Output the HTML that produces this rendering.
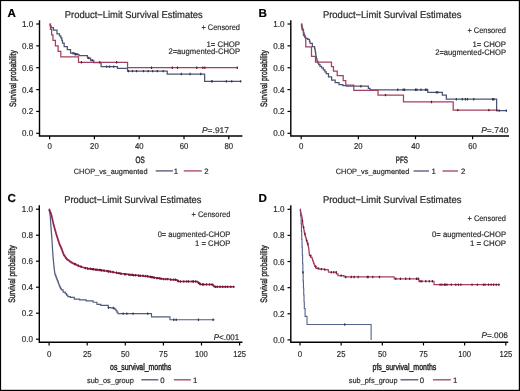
<!DOCTYPE html>
<html><head><meta charset="utf-8"><style>
html,body{margin:0;padding:0;background:#fff;width:520px;height:391px;overflow:hidden}
svg{display:block;filter:blur(0.3px)}
text{font-family:"Liberation Sans",sans-serif;text-rendering:geometricPrecision;stroke:#2a2a2a;stroke-width:0.18px}
</style></head><body>
<svg width="520" height="391" viewBox="0 0 520 391" font-family="'Liberation Sans', sans-serif">
<rect x="0" y="0" width="520" height="391" fill="#fff"/>
<text x="7.60" y="16.50" font-size="11.60" text-anchor="start" fill="#000" font-weight="bold" style="stroke:#000;stroke-width:0.2px">A</text>
<text x="64.80" y="17.60" font-size="9.90" text-anchor="start" fill="#2a2a2a" font-weight="normal" textLength="138.00" lengthAdjust="spacingAndGlyphs" style="stroke-width:0.22px">Product&#8722;Limit Survival Estimates</text>
<path d="M39.50,20.30V136.00H242.40" fill="none" stroke="#000" stroke-width="1.4"/>
<path d="M36.20,133.30H39.50" stroke="#000" stroke-width="1.2"/>
<text x="33.20" y="136.30" font-size="8.60" text-anchor="end" fill="#2a2a2a" font-weight="normal" textLength="11.20" lengthAdjust="spacingAndGlyphs" >0.0</text>
<path d="M36.20,111.44H39.50" stroke="#000" stroke-width="1.2"/>
<text x="33.20" y="114.44" font-size="8.60" text-anchor="end" fill="#2a2a2a" font-weight="normal" textLength="11.20" lengthAdjust="spacingAndGlyphs" >0.2</text>
<path d="M36.20,89.58H39.50" stroke="#000" stroke-width="1.2"/>
<text x="33.20" y="92.58" font-size="8.60" text-anchor="end" fill="#2a2a2a" font-weight="normal" textLength="11.20" lengthAdjust="spacingAndGlyphs" >0.4</text>
<path d="M36.20,67.72H39.50" stroke="#000" stroke-width="1.2"/>
<text x="33.20" y="70.72" font-size="8.60" text-anchor="end" fill="#2a2a2a" font-weight="normal" textLength="11.20" lengthAdjust="spacingAndGlyphs" >0.6</text>
<path d="M36.20,45.86H39.50" stroke="#000" stroke-width="1.2"/>
<text x="33.20" y="48.86" font-size="8.60" text-anchor="end" fill="#2a2a2a" font-weight="normal" textLength="11.20" lengthAdjust="spacingAndGlyphs" >0.8</text>
<path d="M36.20,24.00H39.50" stroke="#000" stroke-width="1.2"/>
<text x="33.20" y="27.00" font-size="8.60" text-anchor="end" fill="#2a2a2a" font-weight="normal" textLength="11.20" lengthAdjust="spacingAndGlyphs" >1.0</text>
<path d="M49.60,136.00V139.20" stroke="#000" stroke-width="1.2"/>
<text x="49.60" y="149.30" font-size="8.60" text-anchor="middle" fill="#2a2a2a" font-weight="normal" textLength="4.40" lengthAdjust="spacingAndGlyphs" >0</text>
<path d="M94.40,136.00V139.20" stroke="#000" stroke-width="1.2"/>
<text x="94.40" y="149.30" font-size="8.60" text-anchor="middle" fill="#2a2a2a" font-weight="normal" textLength="8.60" lengthAdjust="spacingAndGlyphs" >20</text>
<path d="M139.20,136.00V139.20" stroke="#000" stroke-width="1.2"/>
<text x="139.20" y="149.30" font-size="8.60" text-anchor="middle" fill="#2a2a2a" font-weight="normal" textLength="8.60" lengthAdjust="spacingAndGlyphs" >40</text>
<path d="M184.00,136.00V139.20" stroke="#000" stroke-width="1.2"/>
<text x="184.00" y="149.30" font-size="8.60" text-anchor="middle" fill="#2a2a2a" font-weight="normal" textLength="8.60" lengthAdjust="spacingAndGlyphs" >60</text>
<path d="M228.80,136.00V139.20" stroke="#000" stroke-width="1.2"/>
<text x="228.80" y="149.30" font-size="8.60" text-anchor="middle" fill="#2a2a2a" font-weight="normal" textLength="8.60" lengthAdjust="spacingAndGlyphs" >80</text>
<text x="0" y="0" font-size="9.4" fill="#2a2a2a" stroke="#2a2a2a" style="stroke-width:0.4px" text-anchor="middle" textLength="56.8" lengthAdjust="spacingAndGlyphs" transform="translate(15.60,78.60) rotate(-90)">Survival probability</text>
<text x="140.10" y="163.20" font-size="9.20" text-anchor="middle" fill="#2a2a2a" font-weight="normal" textLength="9.20" lengthAdjust="spacingAndGlyphs" style="stroke-width:0.45px">OS</text>
<text x="240.00" y="29.80" font-size="8.00" text-anchor="end" fill="#2a2a2a" font-weight="normal" textLength="38.60" lengthAdjust="spacingAndGlyphs" >+ Censored</text>
<text x="240.00" y="46.60" font-size="8.00" text-anchor="end" fill="#2a2a2a" font-weight="normal" textLength="33.50" lengthAdjust="spacingAndGlyphs" >1= CHOP</text>
<text x="240.00" y="54.30" font-size="8.00" text-anchor="end" fill="#2a2a2a" font-weight="normal" textLength="71.60" lengthAdjust="spacingAndGlyphs" >2=augmented-CHOP</text>
<text x="202.00" y="132.80" font-size="8.2" fill="#2a2a2a" textLength="27.0" lengthAdjust="spacingAndGlyphs"><tspan font-style="italic">P</tspan>=.917</text>
<text x="73.80" y="173.60" font-size="7.60" text-anchor="start" fill="#2a2a2a" font-weight="normal" textLength="73.70" lengthAdjust="spacingAndGlyphs" >CHOP_vs_augmented</text>
<path d="M155.70,170.90H173.00" stroke="#4c5472" stroke-width="1.3"/>
<text x="173.80" y="173.60" font-size="7.80" text-anchor="start" fill="#2a2a2a" font-weight="normal" >1</text>
<path d="M183.80,170.90H201.80" stroke="#a3405f" stroke-width="1.3"/>
<text x="204.30" y="173.60" font-size="7.80" text-anchor="start" fill="#2a2a2a" font-weight="normal" >2</text>
<path d="M49.60,24.00L50.10,24.00L50.10,25.86L51.11,25.86L51.11,27.72L51.62,27.72L53.41,27.72L53.41,30.23L55.20,30.23L56.99,30.23L56.99,33.84L58.78,33.84L59.46,33.84L59.46,35.86L60.80,35.86L60.80,37.88L61.47,37.88L61.81,37.88L61.81,40.45L62.48,40.45L62.48,43.02L62.82,43.02L64.16,43.02L64.16,46.63L65.50,46.63L67.30,46.63L67.30,49.69L69.09,49.69L70.54,49.69L70.54,53.18L72.00,53.18L74.80,53.18L74.80,54.28L77.60,54.28L78.94,54.28L78.94,55.70L80.29,55.70L85.89,55.70L87.46,55.70L87.46,58.03L90.59,58.03L90.59,60.36L93.73,60.36L93.73,62.69L95.30,62.69L101.12,62.69L101.12,66.63L117.47,66.63L117.47,68.38L127.55,68.38L127.55,71.11L167.20,71.11L167.20,74.06L204.61,74.06L204.61,81.38L240.67,81.38" fill="none" stroke="#4c5472" stroke-width="1.25" stroke-linejoin="miter"/>
<path d="M73.12,51.98V54.38M72.42,53.18H73.82M75.36,53.08V55.48M74.66,54.28H76.06M76.93,53.08V55.48M76.23,54.28H77.63M88.80,56.83V59.23M88.10,58.03H89.50M92.16,59.16V61.56M91.46,60.36H92.86M106.72,65.43V67.83M106.02,66.63H107.42M109.63,65.43V67.83M108.93,66.63H110.33M113.66,65.43V67.83M112.96,66.63H114.36M128.45,69.91V72.31M127.75,71.11H129.15M132.48,69.91V72.31M131.78,71.11H133.18M136.51,69.91V72.31M135.81,71.11H137.21M143.46,69.91V72.31M142.76,71.11H144.16M148.16,69.91V72.31M147.46,71.11H148.86M152.64,69.91V72.31M151.94,71.11H153.34M157.34,69.91V72.31M156.64,71.11H158.04M163.17,69.91V72.31M162.47,71.11H163.87M181.31,72.86V75.26M180.61,74.06H182.01M190.05,72.86V75.26M189.35,74.06H190.75M200.80,72.86V75.26M200.10,74.06H201.50M211.55,80.18V82.58M210.85,81.38H212.25M212.22,80.18V82.58M211.52,81.38H212.92M226.34,80.18V82.58M225.64,81.38H227.04M231.71,80.18V82.58M231.01,81.38H232.41M240.67,80.18V82.58M239.97,81.38H241.37" fill="none" stroke="#2c3455" stroke-width="1.10"/>
<path d="M49.60,24.00L50.50,24.00L50.50,29.47L51.62,29.47L51.62,34.93L52.96,34.93L52.96,40.40L55.42,40.40L55.42,45.86L58.11,45.86L58.11,51.33L60.80,51.33L60.80,56.79L78.50,56.79L78.50,62.26L127.55,62.26L127.55,67.72L237.31,67.72" fill="none" stroke="#a3405f" stroke-width="1.25" stroke-linejoin="miter"/>
<path d="M81.41,61.06V63.46M80.71,62.26H82.11M99.78,61.06V63.46M99.08,62.26H100.48M116.58,61.06V63.46M115.88,62.26H117.28M151.52,66.52V68.92M150.82,67.72H152.22M172.35,66.52V68.92M171.65,67.72H173.05M177.50,66.52V68.92M176.80,67.72H178.20M196.77,66.52V68.92M196.07,67.72H197.47M202.82,66.52V68.92M202.12,67.72H203.52M204.83,66.52V68.92M204.13,67.72H205.53M237.31,66.52V68.92M236.61,67.72H238.01" fill="none" stroke="#6e1234" stroke-width="1.10"/>
<text x="258.60" y="16.50" font-size="11.60" text-anchor="start" fill="#000" font-weight="bold" style="stroke:#000;stroke-width:0.2px">B</text>
<text x="322.90" y="17.60" font-size="9.90" text-anchor="start" fill="#2a2a2a" font-weight="normal" textLength="138.60" lengthAdjust="spacingAndGlyphs" style="stroke-width:0.22px">Product&#8722;Limit Survival Estimates</text>
<path d="M290.80,20.30V136.00H509.00" fill="none" stroke="#000" stroke-width="1.4"/>
<path d="M287.50,133.30H290.80" stroke="#000" stroke-width="1.2"/>
<text x="284.50" y="136.30" font-size="8.60" text-anchor="end" fill="#2a2a2a" font-weight="normal" textLength="11.20" lengthAdjust="spacingAndGlyphs" >0.0</text>
<path d="M287.50,111.44H290.80" stroke="#000" stroke-width="1.2"/>
<text x="284.50" y="114.44" font-size="8.60" text-anchor="end" fill="#2a2a2a" font-weight="normal" textLength="11.20" lengthAdjust="spacingAndGlyphs" >0.2</text>
<path d="M287.50,89.58H290.80" stroke="#000" stroke-width="1.2"/>
<text x="284.50" y="92.58" font-size="8.60" text-anchor="end" fill="#2a2a2a" font-weight="normal" textLength="11.20" lengthAdjust="spacingAndGlyphs" >0.4</text>
<path d="M287.50,67.72H290.80" stroke="#000" stroke-width="1.2"/>
<text x="284.50" y="70.72" font-size="8.60" text-anchor="end" fill="#2a2a2a" font-weight="normal" textLength="11.20" lengthAdjust="spacingAndGlyphs" >0.6</text>
<path d="M287.50,45.86H290.80" stroke="#000" stroke-width="1.2"/>
<text x="284.50" y="48.86" font-size="8.60" text-anchor="end" fill="#2a2a2a" font-weight="normal" textLength="11.20" lengthAdjust="spacingAndGlyphs" >0.8</text>
<path d="M287.50,24.00H290.80" stroke="#000" stroke-width="1.2"/>
<text x="284.50" y="27.00" font-size="8.60" text-anchor="end" fill="#2a2a2a" font-weight="normal" textLength="11.20" lengthAdjust="spacingAndGlyphs" >1.0</text>
<path d="M301.20,136.00V139.20" stroke="#000" stroke-width="1.2"/>
<text x="301.20" y="149.30" font-size="8.60" text-anchor="middle" fill="#2a2a2a" font-weight="normal" textLength="4.40" lengthAdjust="spacingAndGlyphs" >0</text>
<path d="M358.34,136.00V139.20" stroke="#000" stroke-width="1.2"/>
<text x="358.34" y="149.30" font-size="8.60" text-anchor="middle" fill="#2a2a2a" font-weight="normal" textLength="8.60" lengthAdjust="spacingAndGlyphs" >20</text>
<path d="M415.48,136.00V139.20" stroke="#000" stroke-width="1.2"/>
<text x="415.48" y="149.30" font-size="8.60" text-anchor="middle" fill="#2a2a2a" font-weight="normal" textLength="8.60" lengthAdjust="spacingAndGlyphs" >40</text>
<path d="M472.62,136.00V139.20" stroke="#000" stroke-width="1.2"/>
<text x="472.62" y="149.30" font-size="8.60" text-anchor="middle" fill="#2a2a2a" font-weight="normal" textLength="8.60" lengthAdjust="spacingAndGlyphs" >60</text>
<text x="0" y="0" font-size="9.4" fill="#2a2a2a" stroke="#2a2a2a" style="stroke-width:0.4px" text-anchor="middle" textLength="56.8" lengthAdjust="spacingAndGlyphs" transform="translate(266.90,78.60) rotate(-90)">Survival probability</text>
<text x="401.80" y="163.20" font-size="9.20" text-anchor="middle" fill="#2a2a2a" font-weight="normal" textLength="12.10" lengthAdjust="spacingAndGlyphs" style="stroke-width:0.45px">PFS</text>
<text x="506.00" y="32.50" font-size="8.00" text-anchor="end" fill="#2a2a2a" font-weight="normal" textLength="38.60" lengthAdjust="spacingAndGlyphs" >+ Censored</text>
<text x="506.00" y="46.60" font-size="8.00" text-anchor="end" fill="#2a2a2a" font-weight="normal" textLength="33.50" lengthAdjust="spacingAndGlyphs" >1= CHOP</text>
<text x="506.00" y="54.60" font-size="8.00" text-anchor="end" fill="#2a2a2a" font-weight="normal" textLength="70.80" lengthAdjust="spacingAndGlyphs" >2=augmented-CHOP</text>
<text x="481.20" y="132.80" font-size="8.2" fill="#2a2a2a" textLength="27.2" lengthAdjust="spacingAndGlyphs"><tspan font-style="italic">P</tspan>=.740</text>
<text x="335.80" y="173.70" font-size="7.60" text-anchor="start" fill="#2a2a2a" font-weight="normal" textLength="73.50" lengthAdjust="spacingAndGlyphs" >CHOP_vs_augmented</text>
<path d="M413.60,171.00H429.00" stroke="#4c5472" stroke-width="1.3"/>
<text x="431.60" y="173.70" font-size="7.80" text-anchor="start" fill="#2a2a2a" font-weight="normal" >1</text>
<path d="M442.50,171.00H458.00" stroke="#a3405f" stroke-width="1.3"/>
<text x="460.90" y="173.70" font-size="7.80" text-anchor="start" fill="#2a2a2a" font-weight="normal" >2</text>
<path d="M301.20,24.00L301.51,24.00L301.51,26.08L302.14,26.08L302.14,28.15L302.77,28.15L302.77,30.23L303.40,30.23L303.40,32.31L303.71,32.31L303.94,32.31L303.94,34.33L304.40,34.33L304.40,36.35L304.63,36.35L305.41,36.35L305.41,38.43L306.20,38.43L307.70,38.43L307.70,39.41L309.20,39.41L309.49,39.41L309.49,41.43L310.06,41.43L310.06,43.46L310.34,43.46L312.34,43.46L312.34,46.63L314.34,46.63L314.56,46.63L314.56,48.32L314.99,48.32L314.99,50.01L315.20,50.01L315.34,50.01L315.34,52.13L315.63,52.13L315.63,54.24L315.91,54.24L315.91,56.35L316.06,56.35L316.34,56.35L316.34,58.65L316.91,58.65L316.91,60.94L317.20,60.94L317.70,60.94L317.70,62.80L318.70,62.80L318.70,64.66L319.20,64.66L319.98,64.66L319.98,66.30L321.56,66.30L321.56,67.94L322.34,67.94L323.34,67.94L323.34,69.80L324.34,69.80L324.98,69.80L324.98,71.76L326.27,71.76L326.27,73.73L326.91,73.73L328.48,73.73L328.48,76.90L330.06,76.90L331.63,76.90L331.63,80.07L333.20,80.07L335.20,80.07L335.20,82.58L337.20,82.58L339.06,82.58L339.06,84.55L340.91,84.55L342.91,84.55L342.91,85.54L344.91,85.54L346.63,85.54L346.63,86.19L348.34,86.19L368.34,86.19L368.34,88.49L370.05,88.49L370.05,89.80L427.77,89.80L427.77,92.42L442.34,92.42L442.34,95.05L446.34,95.05L446.34,99.20L496.62,99.20L496.62,110.67L506.33,110.67" fill="none" stroke="#4c5472" stroke-width="1.25" stroke-linejoin="miter"/>
<path d="M360.91,84.99V87.39M360.21,86.19H361.61M397.77,88.60V91.00M397.07,89.80H398.47M403.19,88.60V91.00M402.49,89.80H403.89M404.62,88.60V91.00M403.92,89.80H405.32M415.48,88.60V91.00M414.78,89.80H416.18M416.91,88.60V91.00M416.21,89.80H417.61M420.91,88.60V91.00M420.21,89.80H421.61M425.48,88.60V91.00M424.78,89.80H426.18M426.91,88.60V91.00M426.21,89.80H427.61M436.34,91.22V93.62M435.64,92.42H437.04M437.76,91.22V93.62M437.06,92.42H438.46M456.34,98.00V100.40M455.64,99.20H457.04M462.33,98.00V100.40M461.63,99.20H463.03M465.48,98.00V100.40M464.78,99.20H466.18M467.48,98.00V100.40M466.78,99.20H468.18M473.76,98.00V100.40M473.06,99.20H474.46M492.62,98.00V100.40M491.92,99.20H493.32M493.76,98.00V100.40M493.06,99.20H494.46M499.19,109.47V111.87M498.49,110.67H499.89M506.33,109.47V111.87M505.63,110.67H507.03" fill="none" stroke="#2c3455" stroke-width="1.10"/>
<path d="M301.20,24.00L301.95,24.00L301.95,29.63L303.45,29.63L303.45,35.26L304.20,35.26L304.99,35.26L304.99,37.44L305.77,37.44L305.77,46.95L311.49,46.95L311.49,56.35L315.49,56.35L315.49,62.15L331.48,62.15L331.48,66.63L333.48,66.63L333.48,71.11L337.20,71.11L337.20,75.59L343.20,75.59L343.20,80.73L345.77,80.73L345.77,85.21L353.77,85.21L353.77,90.45L378.05,90.45L378.05,95.15L403.48,95.15L403.48,101.93L453.19,101.93L453.19,110.13L496.90,110.13" fill="none" stroke="#a3405f" stroke-width="1.25" stroke-linejoin="miter"/>
<path d="M385.48,93.95V96.35M384.78,95.15H386.18M431.48,100.73V103.13M430.78,101.93H432.18M457.76,108.93V111.33M457.06,110.13H458.46M488.90,108.93V111.33M488.20,110.13H489.60M496.90,108.93V111.33M496.20,110.13H497.60" fill="none" stroke="#6e1234" stroke-width="1.10"/>
<text x="7.60" y="201.60" font-size="11.60" text-anchor="start" fill="#000" font-weight="bold" style="stroke:#000;stroke-width:0.2px">C</text>
<text x="64.20" y="202.60" font-size="9.90" text-anchor="start" fill="#2a2a2a" font-weight="normal" textLength="137.30" lengthAdjust="spacingAndGlyphs" style="stroke-width:0.22px">Product&#8722;Limit Survival Estimates</text>
<path d="M39.30,205.30V342.30H242.40" fill="none" stroke="#000" stroke-width="1.4"/>
<path d="M36.00,339.20H39.30" stroke="#000" stroke-width="1.2"/>
<text x="33.00" y="342.20" font-size="8.60" text-anchor="end" fill="#2a2a2a" font-weight="normal" textLength="11.20" lengthAdjust="spacingAndGlyphs" >0.0</text>
<path d="M36.00,313.20H39.30" stroke="#000" stroke-width="1.2"/>
<text x="33.00" y="316.20" font-size="8.60" text-anchor="end" fill="#2a2a2a" font-weight="normal" textLength="11.20" lengthAdjust="spacingAndGlyphs" >0.2</text>
<path d="M36.00,287.20H39.30" stroke="#000" stroke-width="1.2"/>
<text x="33.00" y="290.20" font-size="8.60" text-anchor="end" fill="#2a2a2a" font-weight="normal" textLength="11.20" lengthAdjust="spacingAndGlyphs" >0.4</text>
<path d="M36.00,261.20H39.30" stroke="#000" stroke-width="1.2"/>
<text x="33.00" y="264.20" font-size="8.60" text-anchor="end" fill="#2a2a2a" font-weight="normal" textLength="11.20" lengthAdjust="spacingAndGlyphs" >0.6</text>
<path d="M36.00,235.20H39.30" stroke="#000" stroke-width="1.2"/>
<text x="33.00" y="238.20" font-size="8.60" text-anchor="end" fill="#2a2a2a" font-weight="normal" textLength="11.20" lengthAdjust="spacingAndGlyphs" >0.8</text>
<path d="M36.00,209.20H39.30" stroke="#000" stroke-width="1.2"/>
<text x="33.00" y="212.20" font-size="8.60" text-anchor="end" fill="#2a2a2a" font-weight="normal" textLength="11.20" lengthAdjust="spacingAndGlyphs" >1.0</text>
<path d="M49.10,342.30V345.50" stroke="#000" stroke-width="1.2"/>
<text x="49.10" y="356.60" font-size="8.60" text-anchor="middle" fill="#2a2a2a" font-weight="normal" textLength="4.40" lengthAdjust="spacingAndGlyphs" >0</text>
<path d="M87.20,342.30V345.50" stroke="#000" stroke-width="1.2"/>
<text x="87.20" y="356.60" font-size="8.60" text-anchor="middle" fill="#2a2a2a" font-weight="normal" textLength="8.60" lengthAdjust="spacingAndGlyphs" >25</text>
<path d="M125.30,342.30V345.50" stroke="#000" stroke-width="1.2"/>
<text x="125.30" y="356.60" font-size="8.60" text-anchor="middle" fill="#2a2a2a" font-weight="normal" textLength="8.60" lengthAdjust="spacingAndGlyphs" >50</text>
<path d="M163.40,342.30V345.50" stroke="#000" stroke-width="1.2"/>
<text x="163.40" y="356.60" font-size="8.60" text-anchor="middle" fill="#2a2a2a" font-weight="normal" textLength="8.60" lengthAdjust="spacingAndGlyphs" >75</text>
<path d="M201.50,342.30V345.50" stroke="#000" stroke-width="1.2"/>
<text x="201.50" y="356.60" font-size="8.60" text-anchor="middle" fill="#2a2a2a" font-weight="normal" textLength="12.80" lengthAdjust="spacingAndGlyphs" >100</text>
<path d="M239.60,342.30V345.50" stroke="#000" stroke-width="1.2"/>
<text x="239.60" y="356.60" font-size="8.60" text-anchor="middle" fill="#2a2a2a" font-weight="normal" textLength="12.80" lengthAdjust="spacingAndGlyphs" >125</text>
<text x="0" y="0" font-size="9.4" fill="#2a2a2a" stroke="#2a2a2a" style="stroke-width:0.4px" text-anchor="middle" textLength="57.6" lengthAdjust="spacingAndGlyphs" transform="translate(15.40,274.00) rotate(-90)">Survival probability</text>
<text x="140.70" y="369.80" font-size="9.20" text-anchor="middle" fill="#2a2a2a" font-weight="normal" textLength="61.20" lengthAdjust="spacingAndGlyphs" style="stroke-width:0.45px">os_survival_months</text>
<text x="230.30" y="217.20" font-size="8.00" text-anchor="end" fill="#2a2a2a" font-weight="normal" textLength="38.80" lengthAdjust="spacingAndGlyphs" >+ Censored</text>
<text x="230.30" y="237.40" font-size="8.00" text-anchor="end" fill="#2a2a2a" font-weight="normal" textLength="72.60" lengthAdjust="spacingAndGlyphs" >0= augmented-CHOP</text>
<text x="230.30" y="245.80" font-size="8.00" text-anchor="end" fill="#2a2a2a" font-weight="normal" textLength="35.20" lengthAdjust="spacingAndGlyphs" >1 = CHOP</text>
<text x="213.80" y="339.60" font-size="8.2" fill="#2a2a2a" textLength="25.4" lengthAdjust="spacingAndGlyphs"><tspan font-style="italic">P</tspan>&lt;.001</text>
<text x="87.00" y="382.50" font-size="7.60" text-anchor="start" fill="#2a2a2a" font-weight="normal" textLength="46.80" lengthAdjust="spacingAndGlyphs" >sub_os_group</text>
<path d="M141.30,379.80H158.30" stroke="#4c5472" stroke-width="1.3"/>
<text x="160.20" y="382.50" font-size="7.80" text-anchor="start" fill="#2a2a2a" font-weight="normal" >0</text>
<path d="M173.80,379.80H190.80" stroke="#a3405f" stroke-width="1.3"/>
<text x="193.00" y="382.50" font-size="7.80" text-anchor="start" fill="#2a2a2a" font-weight="normal" >1</text>
<path d="M49.10,209.20L49.23,209.20L49.23,210.66L49.50,210.66L49.50,212.12L49.77,212.12L49.77,213.59L50.03,213.59L50.03,215.05L50.17,215.05L50.22,215.05L50.22,216.59L50.32,216.59L50.32,218.14L50.43,218.14L50.43,219.68L50.53,219.68L50.53,221.22L50.64,221.22L50.64,222.77L50.74,222.77L50.74,224.31L50.85,224.31L50.85,225.86L50.95,225.86L50.95,227.40L51.01,227.40L51.06,227.40L51.06,228.89L51.18,228.89L51.18,230.37L51.30,230.37L51.30,231.86L51.42,231.86L51.42,233.34L51.54,233.34L51.54,234.83L51.66,234.83L51.66,236.31L51.78,236.31L51.78,237.80L51.84,237.80L51.89,237.80L51.89,239.36L51.98,239.36L51.98,240.92L52.07,240.92L52.07,242.48L52.16,242.48L52.16,244.04L52.25,244.04L52.25,245.60L52.30,245.60L52.35,245.60L52.35,247.16L52.45,247.16L52.45,248.72L52.55,248.72L52.55,250.28L52.66,250.28L52.66,251.84L52.76,251.84L52.76,253.40L52.86,253.40L52.86,254.96L52.91,254.96L52.97,254.96L52.97,256.42L53.09,256.42L53.09,257.87L53.21,257.87L53.21,259.33L53.34,259.33L53.34,260.78L53.46,260.78L53.46,262.24L53.52,262.24L53.61,262.24L53.61,263.78L53.78,263.78L53.78,265.32L53.96,265.32L53.96,266.86L54.13,266.86L54.13,268.41L54.30,268.41L54.30,269.95L54.48,269.95L54.48,271.49L54.65,271.49L54.65,273.03L54.74,273.03L55.02,273.03L55.02,274.56L55.60,274.56L55.60,276.08L56.17,276.08L56.17,277.61L56.74,277.61L56.74,279.14L57.02,279.14L57.31,279.14L57.31,280.67L57.88,280.67L57.88,282.19L58.45,282.19L58.45,283.72L59.03,283.72L59.03,285.25L59.31,285.25L59.69,285.25L59.69,286.81L60.45,286.81L60.45,288.37L61.22,288.37L61.22,289.93L61.60,289.93L63.12,289.93L63.12,292.14L64.64,292.14L65.28,292.14L65.28,293.61L66.55,293.61L66.55,295.09L67.82,295.09L67.82,296.56L68.45,296.56L70.36,296.56L70.36,297.34L72.26,297.34L74.25,297.34L74.25,299.16L76.23,299.16L79.66,299.16L79.66,299.94L83.09,299.94L86.13,299.94L86.13,300.85L89.18,300.85L93.07,300.85L93.07,302.28L96.95,302.28L96.95,304.36L100.76,304.36L100.76,305.40L104.57,305.40L108.23,305.40L108.23,307.61L111.05,307.61L111.05,308.00L113.87,308.00L114.63,308.00L114.63,309.17L115.39,309.17L115.90,309.17L115.90,310.64L116.92,310.64L116.92,312.12L117.93,312.12L117.93,313.59L118.44,313.59L151.51,313.59L151.51,316.84L169.95,316.84L169.95,319.70L214.61,319.70" fill="none" stroke="#505b82" stroke-width="1.15" stroke-linejoin="miter"/>
<path d="M108.54,306.41V308.81M107.84,307.61H109.24M113.26,306.80V309.20M112.56,308.00H113.96M123.17,312.39V314.79M122.47,313.59H123.87M126.82,312.39V314.79M126.12,313.59H127.52M133.07,312.39V314.79M132.37,313.59H133.77M147.70,312.39V314.79M147.00,313.59H148.40M173.76,318.50V320.90M173.06,319.70H174.46M176.20,318.50V320.90M175.50,319.70H176.90M198.45,318.50V320.90M197.75,319.70H199.15M213.08,318.50V320.90M212.38,319.70H213.78" fill="none" stroke="#2c3455" stroke-width="1.10"/>
<path d="M49.10,209.20L49.21,209.20L49.21,209.69L49.42,209.69L49.42,210.19L49.63,210.19L49.63,210.68L49.85,210.68L49.85,211.18L50.06,211.18L50.06,211.67L50.27,211.67L50.27,212.16L50.49,212.16L50.49,212.66L50.70,212.66L50.70,213.15L50.91,213.15L50.91,213.65L51.13,213.65L51.13,214.14L51.23,214.14L51.29,214.14L51.29,214.67L51.42,214.67L51.42,215.21L51.54,215.21L51.54,215.74L51.66,215.74L51.66,216.27L51.78,216.27L51.78,216.81L51.90,216.81L51.90,217.34L52.03,217.34L52.03,217.87L52.15,217.87L52.15,218.40L52.27,218.40L52.27,218.94L52.39,218.94L52.39,219.47L52.51,219.47L52.51,220.00L52.64,220.00L52.64,220.54L52.76,220.54L52.76,221.07L52.88,221.07L52.88,221.60L53.00,221.60L53.00,222.13L53.12,222.13L53.12,222.67L53.25,222.67L53.25,223.20L53.37,223.20L53.37,223.73L53.49,223.73L53.49,224.27L53.61,224.27L53.61,224.80L53.67,224.80L53.74,224.80L53.74,225.32L53.89,225.32L53.89,225.84L54.03,225.84L54.03,226.36L54.18,226.36L54.18,226.88L54.32,226.88L54.32,227.40L54.46,227.40L54.46,227.92L54.61,227.92L54.61,228.44L54.75,228.44L54.75,228.96L54.90,228.96L54.90,229.48L55.04,229.48L55.04,230.00L55.18,230.00L55.18,230.52L55.33,230.52L55.33,231.04L55.47,231.04L55.47,231.56L55.62,231.56L55.62,232.08L55.76,232.08L55.76,232.60L55.90,232.60L55.90,233.12L56.05,233.12L56.05,233.64L56.19,233.64L56.19,234.16L56.26,234.16L56.35,234.16L56.35,234.69L56.52,234.69L56.52,235.21L56.69,235.21L56.69,235.74L56.86,235.74L56.86,236.27L57.02,236.27L57.02,236.80L57.19,236.80L57.19,237.32L57.36,237.32L57.36,237.85L57.53,237.85L57.53,238.38L57.70,238.38L57.70,238.90L57.87,238.90L57.87,239.43L58.04,239.43L58.04,239.96L58.21,239.96L58.21,240.49L58.38,240.49L58.38,241.01L58.55,241.01L58.55,241.54L58.72,241.54L58.72,242.07L58.89,242.07L58.89,242.60L59.06,242.60L59.06,243.12L59.23,243.12L59.23,243.65L59.31,243.65L59.43,243.65L59.43,244.18L59.66,244.18L59.66,244.71L59.90,244.71L59.90,245.25L60.14,245.25L60.14,245.78L60.37,245.78L60.37,246.31L60.61,246.31L60.61,246.84L60.84,246.84L60.84,247.37L61.08,247.37L61.08,247.90L61.31,247.90L61.31,248.44L61.55,248.44L61.55,248.97L61.78,248.97L61.78,249.50L61.90,249.50L61.99,249.50L61.99,250.05L62.18,250.05L62.18,250.60L62.37,250.60L62.37,251.15L62.55,251.15L62.55,251.70L62.74,251.70L62.74,252.24L62.93,252.24L62.93,252.79L63.11,252.79L63.11,253.34L63.30,253.34L63.30,253.89L63.48,253.89L63.48,254.44L63.58,254.44L63.76,254.44L63.76,254.97L64.14,254.97L64.14,255.51L64.51,255.51L64.51,256.04L64.88,256.04L64.88,256.58L65.25,256.58L65.25,257.11L65.63,257.11L65.63,257.65L66.00,257.65L66.00,258.18L66.37,258.18L66.37,258.72L66.74,258.72L66.74,259.25L66.93,259.25L67.32,259.25L67.32,259.79L68.11,259.79L68.11,260.33L68.89,260.33L68.89,260.87L69.67,260.87L69.67,261.40L70.46,261.40L70.46,261.94L71.24,261.94L71.24,262.48L72.03,262.48L72.03,263.02L72.42,263.02L72.99,263.02L72.99,263.54L74.13,263.54L74.13,264.06L75.27,264.06L75.27,264.58L76.42,264.58L76.42,265.10L77.56,265.10L77.56,265.62L78.70,265.62L78.70,266.14L79.28,266.14L80.04,266.14L80.04,266.63L81.56,266.63L81.56,267.12L83.09,267.12L83.09,267.60L84.61,267.60L84.61,268.09L85.37,268.09L87.31,268.09L87.31,268.68L91.20,268.68L91.20,269.26L93.14,269.26L94.86,269.26L94.86,269.65L98.29,269.65L98.29,270.04L100.00,270.04L101.53,270.04L101.53,270.52L104.57,270.52L104.57,270.99L107.62,270.99L107.62,271.47L109.15,271.47L110.69,271.47L110.69,272.03L113.79,272.03L113.79,272.60L116.89,272.60L116.89,273.16L118.44,273.16L120.50,273.16L120.50,273.72L124.61,273.72L124.61,274.29L128.73,274.29L128.73,274.85L130.79,274.85L133.35,274.85L133.35,275.28L138.48,275.28L138.48,275.72L143.61,275.72L143.61,276.15L146.18,276.15L147.72,276.15L147.72,276.67L150.81,276.67L150.81,277.19L153.89,277.19L153.89,277.71L156.98,277.71L156.98,278.23L158.52,278.23L160.05,278.23L160.05,278.69L163.10,278.69L163.10,279.14L164.62,279.14L170.41,279.14L170.41,279.66L176.20,279.66L176.51,279.66L176.51,280.12L177.12,280.12L177.12,280.57L177.73,280.57L177.73,281.02L178.34,281.02L178.34,281.48L178.64,281.48L196.93,281.48L197.25,281.48L197.25,281.98L197.88,281.98L197.88,282.48L198.52,282.48L198.52,282.97L199.15,282.97L199.15,283.47L199.79,283.47L199.79,283.97L200.42,283.97L200.42,284.47L200.74,284.47L212.32,284.47L212.61,284.47L212.61,285.06L213.18,285.06L213.18,285.64L213.75,285.64L213.75,286.22L214.32,286.22L214.32,286.81L214.61,286.81L233.81,286.81" fill="none" stroke="#962850" stroke-width="1.45" stroke-linejoin="miter"/>
<path d="M75.01,262.86V265.26M74.31,264.06H75.71M78.28,264.42V266.82M77.58,265.62H78.98M81.03,265.43V267.83M80.33,266.63H81.73M85.30,266.89V269.29M84.60,268.09H86.00M87.80,267.48V269.88M87.10,268.68H88.50M90.26,267.48V269.88M89.56,268.68H90.96M92.27,268.06V270.46M91.57,269.26H92.97M93.49,268.06V270.46M92.79,269.26H94.19M95.87,268.45V270.85M95.17,269.65H96.57M97.04,268.45V270.85M96.34,269.65H97.74M99.23,268.84V271.24M98.53,270.04H99.93M100.47,268.84V271.24M99.77,270.04H101.17M101.78,269.32V271.72M101.08,270.52H102.48M103.94,269.32V271.72M103.24,270.52H104.64M107.15,269.79V272.19M106.45,270.99H107.85M108.54,270.27V272.67M107.84,271.47H109.24M110.18,270.27V272.67M109.48,271.47H110.88M112.88,270.83V273.23M112.18,272.03H113.58M116.40,271.40V273.80M115.70,272.60H117.10M118.96,271.96V274.36M118.26,273.16H119.66M121.05,272.52V274.92M120.35,273.72H121.75M124.65,273.09V275.49M123.95,274.29H125.35M125.84,273.09V275.49M125.14,274.29H126.54M129.13,273.65V276.05M128.43,274.85H129.83M130.95,273.65V276.05M130.25,274.85H131.65M132.39,273.65V276.05M131.69,274.85H133.09M133.76,274.08V276.48M133.06,275.28H134.46M135.62,274.08V276.48M134.92,275.28H136.32M138.81,274.52V276.92M138.11,275.72H139.51M140.34,274.52V276.92M139.64,275.72H141.04M142.91,274.52V276.92M142.21,275.72H143.61M145.64,274.95V277.35M144.94,276.15H146.34M147.67,274.95V277.35M146.97,276.15H148.37M150.15,275.47V277.87M149.45,276.67H150.85M151.38,275.99V278.39M150.68,277.19H152.08M152.61,275.99V278.39M151.91,277.19H153.31M154.21,276.51V278.91M153.51,277.71H154.91M157.03,277.03V279.43M156.33,278.23H157.73M159.21,277.03V279.43M158.51,278.23H159.91M161.09,277.49V279.88M160.39,278.69H161.79M163.67,277.94V280.34M162.97,279.14H164.37M165.92,277.94V280.34M165.22,279.14H166.62M167.76,277.94V280.34M167.06,279.14H168.46M170.88,278.46V280.86M170.18,279.66H171.58M173.76,278.46V280.86M173.06,279.66H174.46M175.46,278.46V280.86M174.76,279.66H176.16M178.02,279.82V282.22M177.32,281.02H178.72M180.44,280.28V282.68M179.74,281.48H181.14M183.78,280.28V282.68M183.08,281.48H184.48M186.73,280.28V282.68M186.03,281.48H187.43M188.55,280.28V282.68M187.85,281.48H189.25M192.15,280.28V282.68M191.45,281.48H192.85M193.53,280.28V282.68M192.83,281.48H194.23M195.68,280.28V282.68M194.98,281.48H196.38M198.70,281.77V284.17M198.00,282.97H199.40M200.16,282.77V285.17M199.46,283.97H200.86M202.50,283.27V285.67M201.80,284.47H203.20M203.67,283.27V285.67M202.97,284.47H204.37M206.46,283.27V285.67M205.76,284.47H207.16M209.51,283.27V285.67M208.81,284.47H210.21M212.06,283.27V285.67M211.36,284.47H212.76M215.40,285.61V288.01M214.70,286.81H216.10M217.28,285.61V288.01M216.58,286.81H217.98M220.15,285.61V288.01M219.45,286.81H220.85M222.75,285.61V288.01M222.05,286.81H223.45M225.32,285.61V288.01M224.62,286.81H226.02M227.57,285.61V288.01M226.87,286.81H228.27M230.81,285.61V288.01M230.11,286.81H231.51M233.81,285.61V288.01M233.11,286.81H234.51" fill="none" stroke="#6e1234" stroke-width="1.00"/>
<text x="258.60" y="201.60" font-size="11.60" text-anchor="start" fill="#000" font-weight="bold" style="stroke:#000;stroke-width:0.2px">D</text>
<text x="322.90" y="202.60" font-size="9.90" text-anchor="start" fill="#2a2a2a" font-weight="normal" textLength="138.50" lengthAdjust="spacingAndGlyphs" style="stroke-width:0.22px">Product&#8722;Limit Survival Estimates</text>
<path d="M290.80,205.30V342.30H508.20" fill="none" stroke="#000" stroke-width="1.4"/>
<path d="M287.50,339.90H290.80" stroke="#000" stroke-width="1.2"/>
<text x="284.50" y="342.90" font-size="8.60" text-anchor="end" fill="#2a2a2a" font-weight="normal" textLength="11.20" lengthAdjust="spacingAndGlyphs" >0.0</text>
<path d="M287.50,313.78H290.80" stroke="#000" stroke-width="1.2"/>
<text x="284.50" y="316.78" font-size="8.60" text-anchor="end" fill="#2a2a2a" font-weight="normal" textLength="11.20" lengthAdjust="spacingAndGlyphs" >0.2</text>
<path d="M287.50,287.66H290.80" stroke="#000" stroke-width="1.2"/>
<text x="284.50" y="290.66" font-size="8.60" text-anchor="end" fill="#2a2a2a" font-weight="normal" textLength="11.20" lengthAdjust="spacingAndGlyphs" >0.4</text>
<path d="M287.50,261.54H290.80" stroke="#000" stroke-width="1.2"/>
<text x="284.50" y="264.54" font-size="8.60" text-anchor="end" fill="#2a2a2a" font-weight="normal" textLength="11.20" lengthAdjust="spacingAndGlyphs" >0.6</text>
<path d="M287.50,235.42H290.80" stroke="#000" stroke-width="1.2"/>
<text x="284.50" y="238.42" font-size="8.60" text-anchor="end" fill="#2a2a2a" font-weight="normal" textLength="11.20" lengthAdjust="spacingAndGlyphs" >0.8</text>
<path d="M287.50,209.30H290.80" stroke="#000" stroke-width="1.2"/>
<text x="284.50" y="212.30" font-size="8.60" text-anchor="end" fill="#2a2a2a" font-weight="normal" textLength="11.20" lengthAdjust="spacingAndGlyphs" >1.0</text>
<path d="M300.00,342.30V345.50" stroke="#000" stroke-width="1.2"/>
<text x="300.00" y="356.60" font-size="8.60" text-anchor="middle" fill="#2a2a2a" font-weight="normal" textLength="4.40" lengthAdjust="spacingAndGlyphs" >0</text>
<path d="M341.16,342.30V345.50" stroke="#000" stroke-width="1.2"/>
<text x="341.16" y="356.60" font-size="8.60" text-anchor="middle" fill="#2a2a2a" font-weight="normal" textLength="8.60" lengthAdjust="spacingAndGlyphs" >25</text>
<path d="M382.32,342.30V345.50" stroke="#000" stroke-width="1.2"/>
<text x="382.32" y="356.60" font-size="8.60" text-anchor="middle" fill="#2a2a2a" font-weight="normal" textLength="8.60" lengthAdjust="spacingAndGlyphs" >50</text>
<path d="M423.48,342.30V345.50" stroke="#000" stroke-width="1.2"/>
<text x="423.48" y="356.60" font-size="8.60" text-anchor="middle" fill="#2a2a2a" font-weight="normal" textLength="8.60" lengthAdjust="spacingAndGlyphs" >75</text>
<path d="M464.64,342.30V345.50" stroke="#000" stroke-width="1.2"/>
<text x="464.64" y="356.60" font-size="8.60" text-anchor="middle" fill="#2a2a2a" font-weight="normal" textLength="12.80" lengthAdjust="spacingAndGlyphs" >100</text>
<path d="M505.80,342.30V345.50" stroke="#000" stroke-width="1.2"/>
<text x="505.80" y="356.60" font-size="8.60" text-anchor="middle" fill="#2a2a2a" font-weight="normal" textLength="12.80" lengthAdjust="spacingAndGlyphs" >125</text>
<text x="0" y="0" font-size="9.4" fill="#2a2a2a" stroke="#2a2a2a" style="stroke-width:0.4px" text-anchor="middle" textLength="57.6" lengthAdjust="spacingAndGlyphs" transform="translate(266.60,274.00) rotate(-90)">Survival probability</text>
<text x="404.40" y="369.80" font-size="9.20" text-anchor="middle" fill="#2a2a2a" font-weight="normal" textLength="63.80" lengthAdjust="spacingAndGlyphs" style="stroke-width:0.45px">pfs_survival_months</text>
<text x="506.00" y="220.50" font-size="8.00" text-anchor="end" fill="#2a2a2a" font-weight="normal" textLength="38.50" lengthAdjust="spacingAndGlyphs" >+ Censored</text>
<text x="506.00" y="237.40" font-size="8.00" text-anchor="end" fill="#2a2a2a" font-weight="normal" textLength="74.00" lengthAdjust="spacingAndGlyphs" >0= augmented-CHOP</text>
<text x="506.00" y="245.80" font-size="8.00" text-anchor="end" fill="#2a2a2a" font-weight="normal" textLength="36.00" lengthAdjust="spacingAndGlyphs" >1 = CHOP</text>
<text x="481.40" y="337.80" font-size="8.2" fill="#2a2a2a" textLength="26.6" lengthAdjust="spacingAndGlyphs"><tspan font-style="italic">P</tspan>=.006</text>
<text x="348.80" y="382.50" font-size="7.60" text-anchor="start" fill="#2a2a2a" font-weight="normal" textLength="48.70" lengthAdjust="spacingAndGlyphs" >sub_pfs_group</text>
<path d="M400.50,379.80H418.30" stroke="#4c5472" stroke-width="1.3"/>
<text x="419.70" y="382.50" font-size="7.80" text-anchor="start" fill="#2a2a2a" font-weight="normal" >0</text>
<path d="M433.00,379.80H450.80" stroke="#a3405f" stroke-width="1.3"/>
<text x="453.00" y="382.50" font-size="7.80" text-anchor="start" fill="#2a2a2a" font-weight="normal" >1</text>
<path d="M300.00,209.30L300.49,209.30L300.49,215.83L300.99,215.83L301.14,215.83L301.14,223.67L301.43,223.67L301.43,231.50L301.73,231.50L301.73,239.34L302.03,239.34L302.03,247.17L302.32,247.17L302.32,255.01L302.47,255.01L302.61,255.01L302.61,263.72L302.88,263.72L302.88,272.42L303.16,272.42L303.16,281.13L303.29,281.13L303.44,281.13L303.44,287.99L303.72,287.99L303.72,294.84L304.01,294.84L304.01,301.70L304.30,301.70L304.30,308.56L304.45,308.56L305.10,308.56L305.10,316.39L305.76,316.39L307.00,316.39L307.00,324.49L308.23,324.49L371.12,324.49L371.12,339.90" fill="none" stroke="#56618a" stroke-width="1.10" stroke-linejoin="miter"/>
<path d="M302.96,271.22V273.62M302.26,272.42H303.66M344.78,323.29V325.69M344.08,324.49H345.48" fill="none" stroke="#2c3455" stroke-width="1.10"/>
<path d="M300.00,209.30L300.21,209.30L300.21,211.00L300.64,211.00L300.64,212.70L301.07,212.70L301.07,214.39L301.50,214.39L301.50,216.09L301.93,216.09L301.93,217.79L302.14,217.79L302.22,217.79L302.22,219.39L302.39,219.39L302.39,220.99L302.55,220.99L302.55,222.59L302.72,222.59L302.72,224.19L302.80,224.19L302.96,224.19L302.96,225.79L303.29,225.79L303.29,227.39L303.62,227.39L303.62,228.99L303.95,228.99L303.95,230.59L304.12,230.59L304.31,230.59L304.31,232.29L304.69,232.29L304.69,233.98L305.08,233.98L305.08,235.68L305.27,235.68L305.52,235.68L305.52,237.28L306.01,237.28L306.01,238.88L306.50,238.88L306.50,240.48L307.00,240.48L307.00,242.08L307.24,242.08L307.46,242.08L307.46,243.78L307.90,243.78L307.90,245.48L308.34,245.48L308.34,247.17L308.56,247.17L308.66,247.17L308.66,248.87L308.86,248.87L308.86,250.57L309.06,250.57L309.06,252.27L309.25,252.27L309.25,253.97L309.45,253.97L309.45,255.66L309.55,255.66L310.70,255.66L310.70,257.36L311.85,257.36L312.10,257.36L312.10,258.88L312.59,258.88L312.59,260.41L313.09,260.41L313.09,261.93L313.34,261.93L313.61,261.93L313.61,263.46L314.16,263.46L314.16,264.98L314.71,264.98L314.71,266.50L314.98,266.50L316.05,266.50L316.05,268.33L317.12,268.33L319.10,268.33L319.10,269.11L321.07,269.11L324.53,269.11L324.53,269.64L327.99,269.64L328.19,269.64L328.19,270.94L328.61,270.94L328.61,272.25L328.81,272.25L335.73,272.25L336.47,272.25L336.47,273.95L337.95,273.95L337.95,275.64L338.69,275.64L344.04,275.64L344.04,276.95L349.39,276.95L394.17,276.95L394.17,278.78L418.87,278.78L418.87,281.26L434.02,281.26L434.02,284.66L499.87,284.66" fill="none" stroke="#a3405f" stroke-width="1.20" stroke-linejoin="miter"/>
<path d="M302.47,219.79V222.19M301.77,220.99H303.17M303.62,226.19V228.59M302.92,227.39H304.32M304.94,232.78V235.18M304.24,233.98H305.64M306.59,239.28V241.68M305.89,240.48H307.29M307.90,242.58V244.98M307.20,243.78H308.60M310.70,254.46V256.86M310.00,255.66H311.40M315.64,265.30V267.70M314.94,266.50H316.34M318.11,267.13V269.53M317.41,268.33H318.81M321.40,267.91V270.31M320.70,269.11H322.10M324.70,268.44V270.84M324.00,269.64H325.40M331.28,271.05V273.45M330.58,272.25H331.98M333.75,271.05V273.45M333.05,272.25H334.45M336.22,271.05V273.45M335.52,272.25H336.92M341.16,274.44V276.84M340.46,275.64H341.86M345.77,275.75V278.15M345.07,276.95H346.47M351.20,275.75V278.15M350.50,276.95H351.90M354.17,275.75V278.15M353.47,276.95H354.87M358.12,275.75V278.15M357.42,276.95H358.82M367.34,275.75V278.15M366.64,276.95H368.04M368.16,275.75V278.15M367.46,276.95H368.86M372.77,275.75V278.15M372.07,276.95H373.47M379.52,275.75V278.15M378.82,276.95H380.22M395.82,277.58V279.98M395.12,278.78H396.52M400.43,277.58V279.98M399.73,278.78H401.13M405.70,277.58V279.98M405.00,278.78H406.40M409.65,277.58V279.98M408.95,278.78H410.35M416.57,277.58V279.98M415.87,278.78H417.27M418.21,277.58V279.98M417.51,278.78H418.91M420.02,280.06V282.46M419.32,281.26H420.72M421.83,280.06V282.46M421.13,281.26H422.53M425.78,280.06V282.46M425.08,281.26H426.48M429.24,280.06V282.46M428.54,281.26H429.94M432.37,280.06V282.46M431.67,281.26H433.07M440.11,283.46V285.86M439.41,284.66H440.81M441.92,283.46V285.86M441.22,284.66H442.62M444.39,283.46V285.86M443.69,284.66H445.09M445.38,283.46V285.86M444.68,284.66H446.08M447.02,283.46V285.86M446.32,284.66H447.72M451.30,283.46V285.86M450.60,284.66H452.00M455.75,283.46V285.86M455.05,284.66H456.45M458.38,283.46V285.86M457.68,284.66H459.08M460.85,283.46V285.86M460.15,284.66H461.55M472.05,283.46V285.86M471.35,284.66H472.75M477.32,283.46V285.86M476.62,284.66H478.02M483.41,283.46V285.86M482.71,284.66H484.11M485.06,283.46V285.86M484.36,284.66H485.76M488.51,283.46V285.86M487.81,284.66H489.21M491.15,283.46V285.86M490.45,284.66H491.85M493.62,283.46V285.86M492.92,284.66H494.32M496.25,283.46V285.86M495.55,284.66H496.95M498.89,283.46V285.86M498.19,284.66H499.59" fill="none" stroke="#6e1234" stroke-width="1.10"/>
<rect x="0" y="0" width="520" height="1.1" fill="#000"/>
<rect x="0" y="0" width="1.1" height="391" fill="#000"/>
<rect x="518.8" y="0" width="1.2" height="391" fill="#000"/>
<rect x="0" y="389.8" width="520" height="1.2" fill="#000"/>
</svg>
</body></html>
